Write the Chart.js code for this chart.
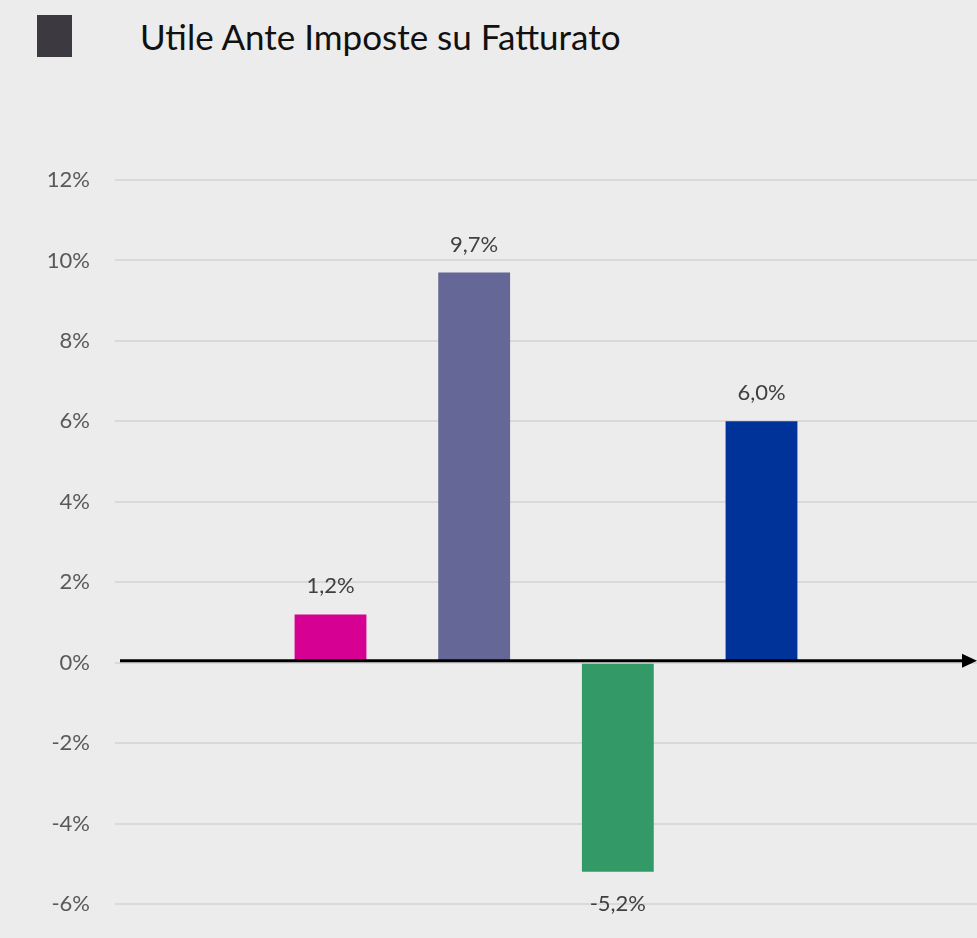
<!DOCTYPE html>
<html lang="it">
<head>
<meta charset="utf-8">
<title>Utile Ante Imposte su Fatturato</title>
<script src="https://cdn.jsdelivr.net/npm/chart.js@4.4.1/dist/chart.umd.min.js"></script>
<style>
  html, body { margin: 0; padding: 0; background: #ececec; }
  #wrap { position: relative; width: 977px; height: 938px; overflow: hidden; }
  #legenda { position: absolute; left: 37px; top: 15px; width: 35px; height: 42px; background: #3c3a40; }
  #titolo {
    position: absolute; left: 140px; top: 15px;
    font-family: Lato, "Open Sans", sans-serif; font-size: 35px; color: #111;
    white-space: nowrap;
  }
  #grafico { position: absolute; left: 0; top: 0; }
</style>
</head>
<body>
<div id="wrap">
  <div id="legenda"></div>
  <div id="titolo">Utile Ante Imposte su Fatturato</div>
  <canvas id="grafico" width="977" height="938"></canvas>
</div>
<script>
// categorie: la prima e l'ultima restano vuote come margine
const categorie = ["", "A", "B", "C", "D", ""];
const valori = [null, 1.2, 9.7, -5.2, 6.0, null];
const colori = ["#000000", "#d60093", "#656796", "#339966", "#003399", "#000000"];
const tickValori = [-6, -4, -2, 0, 2, 4, 6, 8, 10, 12];

const FONT = "Lato, 'Open Sans', sans-serif";

// asse dello zero con freccia, disegnato sopra le barre
const assePlugin = {
  id: "asseZero",
  afterDatasetsDraw(chart) {
    const { ctx, scales, chartArea } = chart;
    const y = scales.y.getPixelForValue(0) - 2;
    ctx.save();
    ctx.strokeStyle = "#000";
    ctx.lineWidth = 3;
    ctx.beginPath();
    ctx.moveTo(chartArea.left + 5, y);
    ctx.lineTo(chartArea.right - 12, y);
    ctx.stroke();
    ctx.fillStyle = "#000";
    ctx.beginPath();
    ctx.moveTo(chartArea.right, y);
    ctx.lineTo(chartArea.right - 15, y - 7);
    ctx.lineTo(chartArea.right - 15, y + 7);
    ctx.closePath();
    ctx.fill();
    ctx.restore();
  },
};

// etichette con il valore sopra/sotto ogni barra
const etichettePlugin = {
  id: "etichette",
  afterDatasetsDraw(chart) {
    const { ctx } = chart;
    const meta = chart.getDatasetMeta(0);
    ctx.save();
    ctx.font = "22px " + FONT;
    ctx.fillStyle = "#404040";
    ctx.textAlign = "center";
    ctx.textBaseline = "middle";
    meta.data.forEach((bar, i) => {
      const v = valori[i];
      if (v === null) return;
      const testo = v.toFixed(1).replace(".", ",") + "%";
      const y = v >= 0 ? bar.y - 28 : bar.y + 32;
      ctx.fillText(testo, bar.x, y);
    });
    ctx.restore();
  },
};

new Chart(document.getElementById("grafico"), {
  type: "bar",
  data: {
    labels: categorie,
    datasets: [
      {
        data: valori,
        backgroundColor: colori,
        borderWidth: 0,
        categoryPercentage: 1,
        barPercentage: 0.5,
      },
    ],
  },
  options: {
    responsive: false,
    animation: false,
    layout: { padding: { top: 180, bottom: 34, right: 0, left: 0 } },
    plugins: {
      legend: { display: false },
      tooltip: { enabled: false },
    },
    scales: {
      x: {
        display: false,
        offset: true,
      },
      y: {
        min: -6,
        max: 12,
        afterFit(scale) {
          scale.width = 115;
          // l'area del grafico la decide solo il padding del layout
          scale.paddingTop = 0;
          scale.paddingBottom = 0;
        },
        afterBuildTicks(scale) {
          scale.ticks = tickValori.map((v) => ({ value: v }));
        },
        border: { display: false },
        grid: { color: "#d9d9d9", lineWidth: 2, drawTicks: false },
        ticks: {
          padding: 25,
          color: "#595959",
          font: { family: FONT, size: 22 },
          callback: (v) => v + "%",
        },
      },
    },
  },
  plugins: [assePlugin, etichettePlugin],
});
</script>
</body>
</html>
